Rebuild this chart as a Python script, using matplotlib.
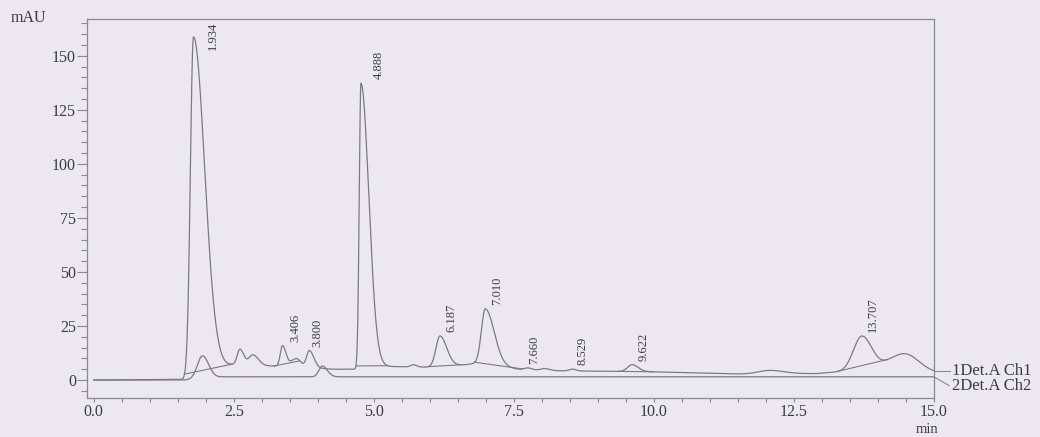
import numpy as np
import matplotlib
matplotlib.use("Agg")
import matplotlib.pyplot as plt
from matplotlib.ticker import MultipleLocator, FormatStrFormatter

# ---------------- data ----------------
# Ch1 peaks: apex time (min), height above drift (mAU), left / right widths (min)
ch1_peak_time = [1.78, 2.61, 2.84, 3.37, 3.62, 3.85, 4.77, 5.71, 6.18, 6.99,
                 7.75, 8.05, 8.55, 9.61, 12.07, 13.71, 14.48]
ch1_peak_height = [157.0, 7.5, 5.0, 9.5, 4.0, 8.0, 132.0, 1.0, 14.0, 26.0,
                   0.8, 0.8, 0.8, 3.2, 1.6, 16.0, 8.0]
ch1_width_left = [0.055, 0.05, 0.07, 0.04, 0.10, 0.05, 0.03, 0.05, 0.07, 0.07,
                  0.06, 0.06, 0.06, 0.08, 0.20, 0.15, 0.28]
ch1_width_right = [0.20, 0.07, 0.10, 0.06, 0.08, 0.08, 0.14, 0.05, 0.12, 0.16,
                   0.06, 0.08, 0.06, 0.11, 0.25, 0.18, 0.25]
# Ch1 drift (valley levels)
ch1_drift_time = [0.0, 1.60, 2.45, 3.20, 4.30, 4.65, 5.20, 5.90, 6.60, 6.80,
                  7.60, 8.30, 9.30, 10.0, 11.5, 12.9, 13.3, 14.2, 15.0]
ch1_drift_level = [0.0, 0.3, 6.8, 6.5, 5.0, 5.0, 6.3, 6.0, 7.0, 7.6,
                   5.0, 4.3, 4.0, 3.8, 2.8, 3.0, 3.8, 4.6, 3.4]

# Ch2 peaks and drift
ch2_peak_time = [1.94, 4.08]
ch2_peak_height = [10.5, 5.0]
ch2_width_left = [0.09, 0.06]
ch2_width_right = [0.11, 0.09]
ch2_drift_time = [0.0, 1.60, 2.30, 15.0]
ch2_drift_level = [0.0, 0.0, 1.5, 1.5]

# integration baselines drawn under Ch1 peaks (start, end in min)
base_start = [1.62, 3.22, 4.68, 5.96, 6.80, 9.37, 13.28]
base_end = [2.47, 3.68, 5.25, 6.55, 7.65, 9.99, 14.17]

# peak labels and the Ch1 peak they belong to
peak_labels = ["1.934", "3.406", "3.800", "4.888", "6.187", "7.010",
               "7.660", "8.529", "9.622", "13.707"]
label_peak = [0, 3, 5, 6, 8, 9, 10, 12, 13, 15]

x_ticks = [0.0, 2.5, 5.0, 7.5, 10.0, 12.5, 15.0]
y_ticks = [0, 25, 50, 75, 100, 125, 150]
channel_names = ["1Det.A Ch1", "2Det.A Ch2"]

# ---------------- build traces ----------------
t = np.linspace(0.0, 15.0, 6001)


def bigauss(tt, c, h, sl, sr):
    s = np.where(tt < c, sl, sr)
    return h * np.exp(-0.5 * ((tt - c) / s) ** 2)


def trace(tt, pt, ph, wl, wr, dt, dl):
    y = np.interp(tt, dt, dl)
    for c, h, a, b in zip(pt, ph, wl, wr):
        y = y + bigauss(tt, c, h, a, b)
    return y


def ch1(tt):
    return trace(np.atleast_1d(tt), ch1_peak_time, ch1_peak_height, ch1_width_left,
                 ch1_width_right, ch1_drift_time, ch1_drift_level)


def ch2(tt):
    return trace(np.atleast_1d(tt), ch2_peak_time, ch2_peak_height, ch2_width_left,
                 ch2_width_right, ch2_drift_time, ch2_drift_level)


y1 = ch1(t)
y2 = ch2(t)

# ---------------- style ----------------
bg = "#ece8f0"
line_c = "#7c7a86"
frame_c = "#8a8894"
text_c = "#3c3a48"
serif = ["Liberation Serif", "DejaVu Serif"]
plt.rcParams["font.family"] = serif

fig = plt.figure(figsize=(10.4, 4.37), dpi=100, facecolor=bg)
ax = fig.add_axes([87 / 1040, 39 / 437, (934 - 87) / 1040, (398 - 19) / 437])
ax.set_facecolor(bg)
ax.set_xlim(-0.12, 15.0)
ax.set_ylim(-8.3, 167.0)

ax.plot(t, y1, color=line_c, lw=0.9)
ax.plot(t, y2, color=line_c, lw=0.9)
for s, e in zip(base_start, base_end):
    ax.plot([s, e], [float(ch1(s)[0]), float(ch1(e)[0])], color=line_c, lw=0.8)

# peak labels (rotated, reading bottom to top)
for lab, idx in zip(peak_labels, label_peak):
    rt = float(lab)
    top = float(ch1(ch1_peak_time[idx])[0])
    if top + 16 > 166:
        ax.text(rt + 0.09, 165.5, lab, rotation=90, ha="left", va="top",
                fontsize=9, color=text_c)
    else:
        ax.text(rt + 0.09, top + 1.8, lab, rotation=90, ha="left", va="bottom",
                fontsize=9, color=text_c)

for sp in ax.spines.values():
    sp.set_color(frame_c)
    sp.set_linewidth(0.9)

ax.set_xticks(x_ticks)
ax.xaxis.set_minor_locator(MultipleLocator(0.5))
ax.xaxis.set_major_formatter(FormatStrFormatter("%.1f"))
ax.set_yticks(y_ticks)
ax.yaxis.set_minor_locator(MultipleLocator(5))
ax.tick_params(axis="x", which="both", direction="out", length=3, width=0.8,
               color=frame_c, labelsize=11.5, labelcolor=text_c, pad=1)
ax.tick_params(axis="y", which="major", direction="out", length=7, width=0.8,
               color=frame_c, labelsize=11.5, labelcolor=text_c, pad=1)
ax.tick_params(axis="y", which="minor", direction="out", length=4, width=0.8,
               color=frame_c)

# axis unit texts
fig.text(28 / 1040, 1 - 18 / 437, "mAU", ha="center", va="center",
         fontsize=11.5, color=text_c)
fig.text(927 / 1040, 1 - 436 / 437, "min", ha="center", va="bottom",
         fontsize=10.5, color=text_c)

# channel labels with leader lines
e1 = float(y1[-1])
e2 = float(y2[-1])
lab2_y = e1 - 6.9
ax.plot([15.0, 15.29], [e1, e1], color=frame_c, lw=0.8, clip_on=False)
ax.plot([15.0, 15.27], [e2, lab2_y], color=frame_c, lw=0.8, clip_on=False)
ax.text(15.33, e1, channel_names[0], ha="left", va="center", fontsize=12,
        color=text_c, clip_on=False)
ax.text(15.33, lab2_y, channel_names[1], ha="left", va="center", fontsize=12,
        color=text_c, clip_on=False)

fig.savefig("out.png", dpi=100, facecolor=bg)
